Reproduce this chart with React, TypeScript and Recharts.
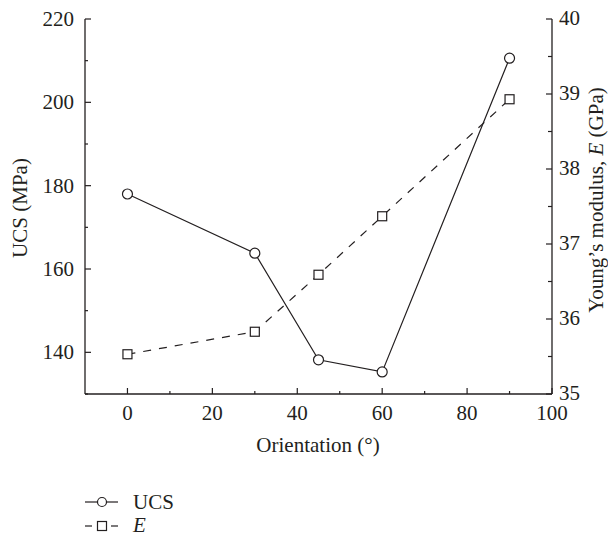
import { LineChart, Line, XAxis, YAxis } from "recharts"

// values
const orientation = [0, 30, 45, 60, 90]
const ucs = [178, 163.8, 138.2, 135.3, 210.6]
const youngE = [35.53, 35.83, 36.59, 37.37, 38.93]

const xTicks = [0, 10, 20, 30, 40, 50, 60, 70, 80, 90, 100]
const ucsTicks = [130, 140, 150, 160, 170, 180, 190, 200, 210, 220]
const eTicks = [35, 35.5, 36, 36.5, 37, 37.5, 38, 38.5, 39, 39.5, 40]

const data = orientation.map((o, i) => ({ orientation: o, ucs: ucs[i], e: youngE[i] }))

const INK = "#231f20"
const FONT = '"Liberation Serif", "Times New Roman", serif'
const FS = 21

function BottomTick(props: any) {
  const { x, y, payload } = props
  const v = payload.value
  const major = v % 20 === 0
  return (
    <g>
      <line x1={x} x2={x} y1={y} y2={y - (major ? 6 : 3)} stroke={INK} strokeWidth={1.2} />
      {major && (
        <text x={x} y={y + 26} textAnchor="middle" fontFamily={FONT} fontSize={FS} fill={INK}>
          {v}
        </text>
      )}
    </g>
  )
}

function LeftTick(props: any) {
  const { x, y, payload } = props
  const v = payload.value
  const major = v % 20 === 0
  return (
    <g>
      <line x1={x} x2={x + (major ? 6 : 3)} y1={y} y2={y} stroke={INK} strokeWidth={1.2} />
      {major && (
        <text x={x - 11} y={y + 7} textAnchor="end" fontFamily={FONT} fontSize={FS} fill={INK}>
          {v}
        </text>
      )}
    </g>
  )
}

function RightTick(props: any) {
  const { x, y, payload } = props
  const v = payload.value
  const major = Number.isInteger(v)
  return (
    <g>
      <line x1={x} x2={x - (major ? 6 : 4)} y1={y} y2={y} stroke={INK} strokeWidth={1.2} />
      {major && (
        <text x={x + 7} y={y + 6} textAnchor="start" fontFamily={FONT} fontSize={FS} fill={INK}>
          {v}
        </text>
      )}
    </g>
  )
}

const SquareDot = (props: any) => {
  const { cx, cy, index } = props
  return (
    <rect key={index} x={cx - 4.5} y={cy - 4.5} width={9} height={9} fill="#fff" stroke={INK} strokeWidth={1.2} />
  )
}

export default function App() {
  return (
    <div style={{ position: "absolute", left: 0, top: 0, width: 608, height: 536, background: "#fff", overflow: "hidden" }}>
      <LineChart width={608} height={536} data={data} margin={{ top: 19, right: 6, bottom: 82, left: 25 }}>
        <XAxis
          type="number"
          dataKey="orientation"
          domain={[-10, 100]}
          ticks={xTicks}
          interval={0}
          height={60}
          tickSize={0}
          tickMargin={0}
          tick={<BottomTick />}
          tickLine={false}
          axisLine={{ stroke: INK, strokeWidth: 1.3 }}
          label={{
            content: () => (
              <text x={318} y={452} textAnchor="middle" fontFamily={FONT} fontSize={FS} fill={INK}>
                Orientation (°)
              </text>
            ),
          }}
        />
        <YAxis
          yAxisId="left"
          type="number"
          domain={[130, 220]}
          ticks={ucsTicks}
          interval={0}
          width={60}
          tickSize={0}
          tickMargin={0}
          tick={<LeftTick />}
          tickLine={false}
          axisLine={{ stroke: INK, strokeWidth: 1.3 }}
          label={{
            content: () => (
              <text x={27} y={208} transform="rotate(-90, 27, 208)" textAnchor="middle" fontFamily={FONT} fontSize={FS} fill={INK}>
                UCS (MPa)
              </text>
            ),
          }}
        />
        <YAxis
          yAxisId="right"
          orientation="right"
          type="number"
          domain={[35, 40]}
          ticks={eTicks}
          interval={0}
          width={50}
          tickSize={0}
          tickMargin={0}
          tick={<RightTick />}
          tickLine={false}
          axisLine={{ stroke: INK, strokeWidth: 1.3 }}
          label={{
            content: () => (
              <text x={603} y={200} transform="rotate(-90, 603, 200)" textAnchor="middle" fontFamily={FONT} fontSize={FS} fill={INK}>
                Young’s modulus, <tspan fontStyle="italic">E</tspan> (GPa)
              </text>
            ),
          }}
        />
        <Line
          yAxisId="left"
          dataKey="ucs"
          stroke={INK}
          strokeWidth={1.2}
          dot={{ r: 5, fill: "#fff", stroke: INK, strokeWidth: 1.2 }}
          isAnimationActive={false}
        />
        <Line
          yAxisId="right"
          dataKey="e"
          stroke={INK}
          strokeWidth={1.2}
          strokeDasharray="8 8"
          dot={<SquareDot />}
          isAnimationActive={false}
        />
      </LineChart>
      <svg width={200} height={50} style={{ position: "absolute", left: 0, top: 485 }}>
        <line x1={85} x2={97} y1={17} y2={17} stroke={INK} strokeWidth={1.2} />
        <line x1={107} x2={118} y1={17} y2={17} stroke={INK} strokeWidth={1.2} />
        <circle cx={102} cy={17} r={4.5} fill="#fff" stroke={INK} strokeWidth={1.2} />
        <text x={133} y={24} fontFamily={FONT} fontSize={FS} fill={INK}>UCS</text>
        <line x1={85} x2={92} y1={41} y2={41} stroke={INK} strokeWidth={1.2} />
        <line x1={111} x2={118} y1={41} y2={41} stroke={INK} strokeWidth={1.2} />
        <rect x={97.5} y={36.5} width={9} height={9} fill="#fff" stroke={INK} strokeWidth={1.2} />
        <text x={133} y={47} fontFamily={FONT} fontSize={FS} fontStyle="italic" fill={INK}>E</text>
      </svg>
    </div>
  )
}
